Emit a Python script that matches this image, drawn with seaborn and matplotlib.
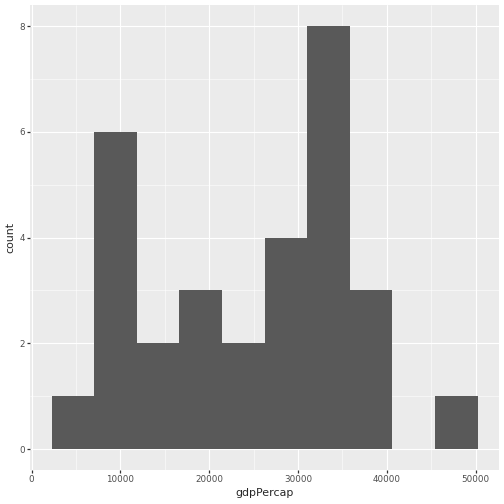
import matplotlib
matplotlib.use("Agg")
import matplotlib.pyplot as plt
import seaborn as sns
import numpy as np

bin_edges = [2247, 7045, 11843, 16640, 21438, 26236, 31034, 35832, 40630, 45428, 50225]
counts = [1, 6, 2, 3, 2, 4, 8, 3, 0, 1]
centers = [(a + b) / 2 for a, b in zip(bin_edges[:-1], bin_edges[1:])]

sns.set_theme(style="darkgrid", rc={"axes.facecolor": "#EBEBEB", "grid.color": "white"})
plt.rcParams['font.family'] = ['DejaVu Sans']
fig, ax = plt.subplots(figsize=(7, 7), dpi=72)
sns.histplot(x=centers, weights=counts, bins=bin_edges, color="#595959", alpha=1,
             edgecolor="none", linewidth=0, ax=ax)
ax.set_xlim(-152, 52624)
ax.set_ylim(-0.4, 8.4)
ax.set_xticks([0, 10000, 20000, 30000, 40000, 50000])
ax.set_yticks([0, 2, 4, 6, 8])
ax.set_xticks([5000, 15000, 25000, 35000, 45000], minor=True)
ax.set_yticks([1, 3, 5, 7], minor=True)
ax.grid(True, which="major", color="white", linewidth=1.1)
ax.grid(True, which="minor", color="white", linewidth=0.5)
ax.set_axisbelow(True)
for s in ax.spines.values():
    s.set_visible(False)
ax.tick_params(axis="both", which="major", labelsize=8.8, labelcolor="#4D4D4D",
               length=3, color="#333333", direction="out", bottom=True, left=True, pad=2)
ax.tick_params(which="minor", length=0)
ax.set_xlabel("gdpPercap", fontsize=11)
ax.set_ylabel("count", fontsize=11)
fig.subplots_adjust(left=0.06, right=0.99, top=0.99, bottom=0.067)
fig.savefig("out.png", dpi=72)
